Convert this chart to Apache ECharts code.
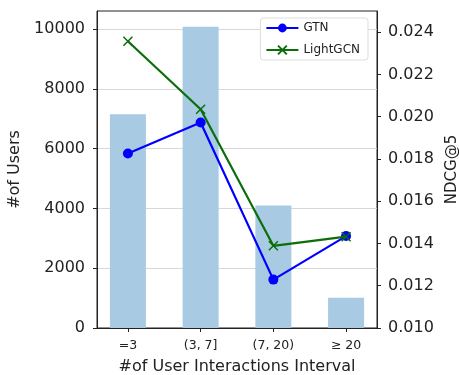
<!DOCTYPE html>
<html>
<head>
<meta charset="utf-8">
<script src="https://cdn.jsdelivr.net/npm/echarts@6/dist/echarts.min.js"></script>
<style>html,body{margin:0;padding:0;background:#fff}#c{width:459px;height:375px}</style>
</head>
<body>
<div id="c"></div>
<script>
const categories = ['=3', '(3, 7]', '(7, 20)', '\u2265 20'];
const users = [7150, 10080, 4100, 1010];
const gtn = [0.01826, 0.01972, 0.01229, 0.01435];
const lightgcn = [0.02357, 0.02035, 0.01389, 0.01432];
const leftTicks = [0, 2000, 4000, 6000, 8000, 10000];
const rightTicks = [0.010, 0.012, 0.014, 0.016, 0.018, 0.020, 0.022, 0.024];
const catPositions = categories.map((c, i) => i);

const FONT = 'DejaVu Sans';
const chart = echarts.init(document.getElementById('c'), null, {renderer: 'canvas'});
chart.setOption({
  animation: false,
  textStyle: {fontFamily: FONT},
  grid: {left: 97, right: 82, top: 11, bottom: 47, show: true, borderColor: '#222', borderWidth: 1,
    containLabel: false, outerBoundsMode: 'none'},
  legend: {
    data: ['GTN', 'LightGCN'], orient: 'vertical', right: 91, top: 18,
    itemWidth: 32, itemHeight: 11, itemGap: 10,
    padding: [4, 8, 4, 5], borderColor: '#ddd', borderWidth: 1, borderRadius: 3,
    backgroundColor: '#fff',
    textStyle: {fontFamily: FONT, fontSize: 12, color: '#222'}
  },
  xAxis: {
    type: 'value', min: -0.425, max: 3.425,
    name: '#of User Interactions Interval', nameLocation: 'middle', nameGap: 31,
    nameTextStyle: {fontFamily: FONT, fontSize: 16, color: '#222'},
    axisLine: {show: true, onZero: false, lineStyle: {color: '#222', width: 1}},
    axisTick: {show: true, customValues: catPositions, length: 4, lineStyle: {color: '#222'}},
    axisLabel: {customValues: catPositions, margin: 11, fontFamily: FONT, fontSize: 12.5, color: '#222',
      formatter: v => categories[Math.round(v)] || ''},
    splitLine: {show: false}
  },
  yAxis: [{
    type: 'value', min: 0, max: 10605, position: 'left',
    name: '#of Users', nameLocation: 'middle', nameGap: 71, nameRotate: 90,
    nameTextStyle: {fontFamily: FONT, fontSize: 16, color: '#222'},
    axisLine: {show: true, onZero: false, lineStyle: {color: '#222', width: 1}},
    axisTick: {show: true, customValues: leftTicks, length: 4, lineStyle: {color: '#222'}},
    axisLabel: {customValues: leftTicks, margin: 12, fontFamily: FONT, fontSize: 16, color: '#222',
      formatter: v => String(Math.round(v))},
    splitLine: {show: true, lineStyle: {color: '#d8d8d8', width: 1.2}}
  }, {
    type: 'value', min: 0.010, max: 0.025, position: 'right',
    name: 'NDCG@5', nameLocation: 'middle', nameGap: 61, nameRotate: 90,
    nameTextStyle: {fontFamily: FONT, fontSize: 15, color: '#222'},
    axisLine: {show: true, onZero: false, lineStyle: {color: '#222', width: 1}},
    axisTick: {show: true, customValues: rightTicks, length: 4, lineStyle: {color: '#222'}},
    axisLabel: {customValues: rightTicks, margin: 11, fontFamily: FONT, fontSize: 16, color: '#222',
      formatter: v => v.toFixed(3)},
    splitLine: {show: false}
  }],
  series: [{
    name: 'Users', type: 'bar', yAxisIndex: 0, barWidth: 36,
    data: users.map((v, i) => [i, v]),
    itemStyle: {color: '#a8cae3'}, z: 1
  }, {
    name: 'GTN', type: 'line', yAxisIndex: 1,
    data: gtn.map((v, i) => [i, v]),
    symbol: 'circle', symbolSize: 10,
    lineStyle: {color: '#0000ff', width: 2.2},
    itemStyle: {color: '#0000ff'}, z: 3
  }, {
    name: 'LightGCN', type: 'line', yAxisIndex: 1,
    data: lightgcn.map((v, i) => [i, v]),
    symbol: 'path://M0,0L10,10M10,0L0,10', symbolSize: 9,
    lineStyle: {color: '#0a6e0a', width: 2.2},
    itemStyle: {color: '#0a6e0a', borderColor: '#0a6e0a', borderWidth: 1.5}, z: 4
  }]
});
</script>
</body>
</html>
